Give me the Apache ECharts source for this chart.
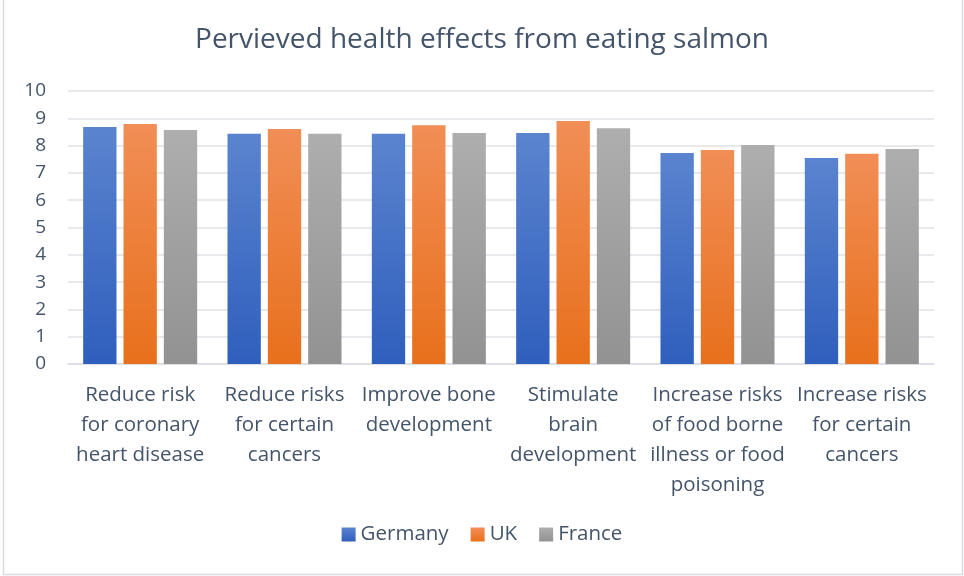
<!DOCTYPE html>
<html>
<head>
<meta charset="utf-8">
<script src="https://cdn.jsdelivr.net/npm/echarts@6/dist/echarts.min.js"></script>
<style>
html,body{margin:0;padding:0;background:#fff;}
#c{width:964px;height:576px;}
</style>
</head>
<body>
<div id="c"></div>
<script>
var categories = [
  "Reduce risk\nfor coronary\nheart disease",
  "Reduce risks\nfor certain\ncancers",
  "Improve bone\ndevelopment",
  "Stimulate\nbrain\ndevelopment",
  "Increase risks\nof food borne\nillness or food\npoisoning",
  "Increase risks\nfor certain\ncancers"
];
var germany = [8.68, 8.43, 8.43, 8.46, 7.73, 7.55];
var uk      = [8.79, 8.61, 8.75, 8.90, 7.84, 7.70];
var france  = [8.57, 8.43, 8.46, 8.64, 8.02, 7.88];
var yTicks = [0, 10, 1];

var txt = '#44546a';
var font = '"Open Sans", Lato, sans-serif';
function grad(top, bottom){
  return new echarts.graphic.LinearGradient(0,0,0,1,[{offset:0,color:top},{offset:1,color:bottom}]);
}
var chart = echarts.init(document.getElementById('c'));
chart.setOption({
  animation:false,
  backgroundColor:'#fff',
  title:{
    text:'Pervieved health effects from eating salmon',
    left:'center', top:21,
    textStyle:{fontFamily:font, fontSize:28, fontWeight:'normal', color:txt}
  },
  legend:{
    bottom:26, left:'center',
    itemWidth:14, itemHeight:14, itemGap:22,
    icon:'rect',
    textStyle:{fontFamily:font, fontSize:20.5, color:txt},
    data:['Germany','UK','France']
  },
  grid:{left:68, right:30, top:91, bottom:212},
  xAxis:{
    type:'category', data:categories,
    axisTick:{show:false},
    axisLine:{lineStyle:{color:'#d9dce1', width:1.5}},
    axisLabel:{fontFamily:font, fontSize:20.5, color:txt, lineHeight:30, margin:16, interval:0}
  },
  yAxis:{
    type:'value', min:yTicks[0], max:yTicks[1], interval:yTicks[2],
    axisLine:{show:false}, axisTick:{show:false},
    splitLine:{lineStyle:{color:'#dfe2e7', width:1.5}},
    axisLabel:{fontFamily:font, fontSize:19, color:txt, margin:22}
  },
  graphic:[{
    type:'rect', shape:{x:3.5, y:-2, width:959, height:576.5},
    style:{fill:'none', stroke:'#d9dce1', lineWidth:1.5}, silent:true
  }],
  series:[
    {name:'Germany', type:'bar', data:germany, barGap:'21%', barCategoryGap:'21%',
     itemStyle:{color:grad('#5b84cf','#2f5fbd')}},
    {name:'UK', type:'bar', data:uk,
     itemStyle:{color:grad('#f18e56','#e8701c')}},
    {name:'France', type:'bar', data:france,
     itemStyle:{color:grad('#aeaeae','#929292')}}
  ]
});
</script>
</body>
</html>
